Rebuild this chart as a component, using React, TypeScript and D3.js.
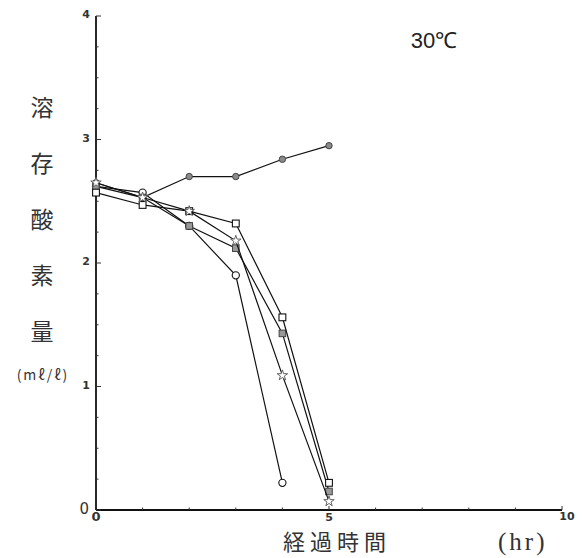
import React from "react";
import * as d3 from "d3";

const hours = [0, 1, 2, 3, 4, 5];
const risingSeries = [2.65, 2.53, 2.7, 2.7, 2.84, 2.95];
const circleSeries = [2.62, 2.57, 2.3, 1.9, 0.22];
const filledSquareSeries = [2.62, 2.53, 2.3, 2.12, 1.43, 0.15];
const squareSeries = [2.57, 2.47, 2.42, 2.32, 1.56, 0.22];
const starSeries = [2.65, 2.53, 2.42, 2.18, 1.09, 0.07];

const xTicks = [0, 5, 10];
const yTicks = [0, 1, 2, 3, 4];
const yLabelChars = ["溶", "存", "酸", "素", "量"];
const unitLabel = "(mℓ/ℓ)";
const xLabel = "経過時間";
const xUnit = "(hr)";
const tempLabel = "30℃";

type Marker = "risingCircle" | "circle" | "filledSquare" | "square" | "star";
const seriesList: { values: number[]; marker: Marker }[] = [
  { values: risingSeries, marker: "risingCircle" },
  { values: circleSeries, marker: "circle" },
  { values: filledSquareSeries, marker: "filledSquare" },
  { values: squareSeries, marker: "square" },
  { values: starSeries, marker: "star" },
];

export default function App() {
  const W = 582;
  const H = 558;
  const x = d3.scaleLinear().domain([0, 10]).range([96, 562]);
  const y = d3.scaleLinear().domain([0, 4]).range([510, 16]);
  const line = d3
    .line<[number, number]>()
    .x((d) => x(d[0]))
    .y((d) => y(d[1]));
  const starPath = d3.symbol().type(d3.symbolStar).size(34)() as string;

  const minorY = d3.range(0, 4.01, 0.25);
  const minorX = d3.range(1, 10, 1);

  const drawMarker = (m: Marker, cx: number, cy: number, k: string) => {
    switch (m) {
      case "risingCircle":
        return <circle key={k} cx={cx} cy={cy} r={3.2} fill="#8a8a8a" stroke="#444" strokeWidth={1} />;
      case "circle":
        return <circle key={k} cx={cx} cy={cy} r={3.6} fill="#fff" stroke="#111" strokeWidth={1.1} />;
      case "filledSquare":
        return <rect key={k} x={cx - 3.3} y={cy - 3.3} width={6.6} height={6.6} fill="#999" stroke="#444" strokeWidth={1} />;
      case "square":
        return <rect key={k} x={cx - 3.4} y={cy - 3.4} width={6.8} height={6.8} fill="#fff" stroke="#111" strokeWidth={1.1} />;
      case "star":
        return <path key={k} d={starPath} transform={`translate(${cx},${cy})`} fill="#fff" stroke="#555" strokeWidth={0.9} />;
    }
  };

  return (
    <svg width={W} height={H} style={{ position: "absolute", left: 0, top: 0, background: "#fff" }}>
      <rect width={W} height={H} fill="#fff" />
      {/* axes */}
      <line x1={x(0)} x2={x(0)} y1={y(0)} y2={y(4)} stroke="#111" strokeWidth={1.8} />
      <line x1={x(0)} x2={x(10)} y1={y(0)} y2={y(0)} stroke="#111" strokeWidth={2} />
      {minorY.map((v) => (
        <line key={"my" + v} x1={x(0)} x2={x(0) + (Number.isInteger(v) ? 5 : 2.5)} y1={y(v)} y2={y(v)} stroke="#333" strokeWidth={1} />
      ))}
      {minorX.map((v) => (
        <line key={"mx" + v} x1={x(v)} x2={x(v)} y1={y(0)} y2={y(0) - (v === 5 ? 4 : 2.5)} stroke="#333" strokeWidth={1} />
      ))}
      <line x1={x(10)} x2={x(10)} y1={y(0)} y2={y(0) - 4} stroke="#333" strokeWidth={1} />
      {/* y tick labels */}
      {yTicks.filter((t) => t > 0).map((t) => (
        <text key={"yt" + t} x={x(0) - 6} y={y(t) + 2} fontFamily="DejaVu Sans" fontSize={11} fontWeight="bold" fill="#333" textAnchor="end">
          {t}
        </text>
      ))}
      <text x={x(0) - 7} y={y(0) + 4} fontFamily="DejaVu Sans" fontSize={15} fill="#333" textAnchor="end">0</text>
      {/* x tick labels */}
      {xTicks.map((t) => (
        <text key={"xt" + t} x={x(t) + (t === 10 ? 5 : 0)} y={t === 10 ? y(0) + 10 : y(0) + 11} fontFamily="DejaVu Sans" fontSize={t === 0 ? 13 : 11} fontWeight="bold" fill="#333" textAnchor="middle">
          {t}
        </text>
      ))}
      {/* y label */}
      {yLabelChars.map((c, i) => (
        <text key={"yl" + i} x={42} y={108 + i * 56 + 8} fontFamily="Noto Sans CJK JP" fontSize={23} fill="#333" textAnchor="middle">
          {c}
        </text>
      ))}
      <text x={43} y={380} fontFamily="Noto Sans CJK JP" fontSize={14} letterSpacing={2} fill="#333" textAnchor="middle">{unitLabel}</text>
      {/* x label */}
      <text x={337} y={550} fontFamily="Noto Sans CJK JP" fontSize={22} letterSpacing={5} fill="#333" textAnchor="middle">{xLabel}</text>
      <text x={498} y={550} fontFamily="Liberation Serif" fontSize={25} letterSpacing={3} fill="#333" textAnchor="start">{xUnit}</text>
      {/* temperature */}
      <text x={434} y={48} fontFamily="Liberation Sans" fontSize={22} fill="#222" textAnchor="middle">{tempLabel}</text>
      {/* series */}
      {seriesList.map((s, si) => {
        const pts = s.values.map((v, i) => [hours[i], v] as [number, number]);
        return (
          <g key={"s" + si}>
            <path d={line(pts) as string} fill="none" stroke="#111" strokeWidth={1.2} />
            {pts.map((p, i) => drawMarker(s.marker, x(p[0]), y(p[1]), si + "-" + i))}
          </g>
        );
      })}
    </svg>
  );
}
